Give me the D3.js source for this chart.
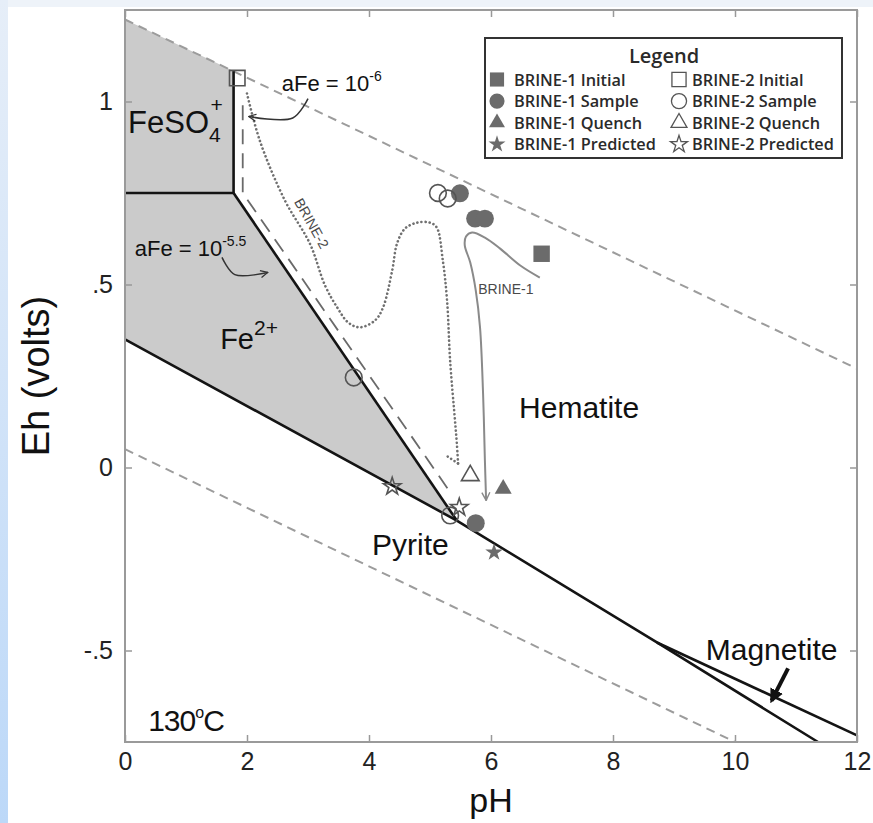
<!DOCTYPE html>
<html>
<head>
<meta charset="utf-8">
<script src="https://cdn.jsdelivr.net/npm/d3@7"></script>
<style>
  body { margin: 0; background: #fff; }
  svg { display: block; font-family: "Liberation Sans", Arial, sans-serif; }
</style>
</head>
<body>
<div id="chart"></div>
<script>
const width = 873;
const height = 823;

// axes
const xTicks = [0, 2, 4, 6, 8, 10, 12];
const yTicks = [1, 0.5, 0, -0.5];
const yTickLabels = ["1", ".5", "0", "-.5"];

// stability field boundaries (pH, Eh)
const waterUpper = [[0, 1.224], [12, 0.27]];
const waterLower = [[0, 0.05], [10, -0.75]];
const feso4Fe2 = [[0, 0.75], [1.78, 0.75]];
const feso4Hem = [[1.78, 0.75], [1.78, 1.083]];
const fe2Hem = [[1.78, 0.75], [5.44, -0.145]];
const pyriteLine = [[0, 0.35], [5.44, -0.145], [8.72, -0.478], [11.36, -0.75]];
const hemMag = [[8.72, -0.478], [12, -0.732]];
const aFe6Line = [[1.93, 0.99], [1.93, 0.75], [5.3, -0.06]];
const grayField = [[0, 1.224], [1.78, 1.083], [1.78, 0.75], [5.44, -0.145], [0, 0.35]];

// reaction paths
const brine2Path = [[2.0, 1.022], [2.21, 0.893], [2.62, 0.73], [3.03, 0.612], [3.28, 0.497],
  [3.48, 0.437], [3.66, 0.396], [3.85, 0.383], [4.10, 0.402], [4.23, 0.437], [4.38, 0.538],
  [4.46, 0.612], [4.59, 0.653], [4.79, 0.669], [5.0, 0.669], [5.11, 0.656], [5.21, 0.566],
  [5.28, 0.456], [5.33, 0.292], [5.41, 0.128], [5.44, 0.066], [5.46, 0.011]];
const brine2Hook = [[5.29, 0.03], [5.46, 0.011]];
const brine1Path = [[6.8, 0.519], [6.48, 0.552], [6.15, 0.598], [5.9, 0.628], [5.69, 0.642],
  [5.59, 0.631], [5.57, 0.607], [5.66, 0.56], [5.75, 0.484], [5.82, 0.383], [5.87, 0.202],
  [5.9, 0.019], [5.92, -0.09]];

// measured / predicted points (pH, Eh)
const brine1Initial = [[6.83, 0.584]];
const brine1Sample = [[5.49, 0.749], [5.74, 0.68], [5.9, 0.68], [5.75, -0.152]];
const brine1Quench = [[6.2, -0.058]];
const brine1Predicted = [[6.05, -0.232]];
const brine2Initial = [[1.84, 1.064]];
const brine2Sample = [[5.13, 0.75], [5.29, 0.735], [3.75, 0.246], [5.33, -0.131]];
const brine2Quench = [[5.66, -0.022]];
const brine2Predicted = [[4.38, -0.052], [5.48, -0.109]];

// annotation arrows
const arrow6 = [[3.0, 1.008], [2.75, 0.955], [2.03, 0.959]];
const arrow55 = [[1.59, 0.574], [1.8, 0.527], [2.34, 0.533]];
const arrowMag = [[10.87, -0.549], [10.6, -0.637]];

const legendRows = [
  ["BRINE-1 Initial", "BRINE-2 Initial"],
  ["BRINE-1 Sample", "BRINE-2 Sample"],
  ["BRINE-1 Quench", "BRINE-2 Quench"],
  ["BRINE-1 Predicted", "BRINE-2 Predicted"]
];

const x = d3.scaleLinear().domain([0, 12]).range([125, 857]);
const y = d3.scaleLinear().domain([-0.75, 1.25]).range([742, 10]);

const svg = d3.select("#chart").append("svg")
    .attr("width", width)
    .attr("height", height);

// light blue border of the scanned figure
let defs = svg.append("defs");
let grad = defs.append("linearGradient")
    .attr("id", "edge").attr("x1", 0).attr("y1", 0).attr("x2", 0).attr("y2", 1);
grad.append("stop").attr("offset", "0%").attr("stop-color", "#e6eef8");
grad.append("stop").attr("offset", "100%").attr("stop-color", "#bcd8f8");
svg.append("rect").attr("width", width).attr("height", height).attr("fill", "#fff");
svg.append("rect").attr("width", width).attr("height", 7).attr("fill", "#eef3f9");
svg.append("rect").attr("width", 8).attr("height", height).attr("fill", "url(#edge)");

defs.append("marker").attr("id", "headOpen")
    .attr("viewBox", "0 0 10 10").attr("refX", 9).attr("refY", 5)
    .attr("markerWidth", 9).attr("markerHeight", 9).attr("markerUnits", "userSpaceOnUse")
    .attr("orient", "auto")
  .append("path").attr("d", "M1,1 L9,5 L1,9")
    .attr("fill", "none").attr("stroke", "#333").attr("stroke-width", 1.4);
defs.append("marker").attr("id", "headGray")
    .attr("viewBox", "0 0 10 10").attr("refX", 9).attr("refY", 5)
    .attr("markerWidth", 10).attr("markerHeight", 10).attr("markerUnits", "userSpaceOnUse")
    .attr("orient", "auto")
  .append("path").attr("d", "M1,1 L9,5 L1,9")
    .attr("fill", "none").attr("stroke", "#888").attr("stroke-width", 1.4);
defs.append("marker").attr("id", "headBlack")
    .attr("viewBox", "0 0 10 10").attr("refX", 8).attr("refY", 5)
    .attr("markerWidth", 14).attr("markerHeight", 14).attr("markerUnits", "userSpaceOnUse")
    .attr("orient", "auto")
  .append("path").attr("d", "M0,0 L10,5 L0,10 Z").attr("fill", "#111");

const line = d3.line().x(d => x(d[0])).y(d => y(d[1]));
const curve = d3.line().x(d => x(d[0])).y(d => y(d[1])).curve(d3.curveCatmullRom);

let plot = svg.append("g");

plot.append("path").attr("d", line(grayField) + "Z").attr("fill", "#cbcbcb");

// water limits
[waterUpper, waterLower].forEach(d => {
  plot.append("path").attr("d", line(d))
      .attr("fill", "none").attr("stroke", "#9c9c9c")
      .attr("stroke-width", 2).attr("stroke-dasharray", "9,6");
});

// aFe = 10^-6 boundary
plot.append("path").attr("d", line(aFe6Line))
    .attr("fill", "none").attr("stroke", "#6a6a6a")
    .attr("stroke-width", 1.8).attr("stroke-dasharray", "15,9");

// solid field boundaries
[feso4Fe2, feso4Hem, fe2Hem, pyriteLine, hemMag].forEach(d => {
  plot.append("path").attr("d", line(d))
      .attr("fill", "none").attr("stroke", "#141414").attr("stroke-width", 2.6);
});

// reaction paths
plot.append("path").attr("d", curve(brine2Path))
    .attr("fill", "none").attr("stroke", "#707070").attr("stroke-width", 2.6)
    .attr("stroke-linecap", "round").attr("stroke-dasharray", "0.1,4");
plot.append("path").attr("d", line(brine2Hook))
    .attr("fill", "none").attr("stroke", "#707070").attr("stroke-width", 2.6)
    .attr("stroke-linecap", "round").attr("stroke-dasharray", "0.1,4");
plot.append("path").attr("d", curve(brine1Path))
    .attr("fill", "none").attr("stroke", "#8a8a8a").attr("stroke-width", 2)
    .attr("marker-end", "url(#headGray)");

plot.append("text")
    .attr("x", x(5.79)).attr("y", y(0.475))
    .style("font-family", "'Liberation Sans Narrow', 'Liberation Sans', sans-serif")
    .style("font-size", "14px").attr("fill", "#4a4a4a")
    .text("BRINE-1");
plot.append("text")
    .attr("transform", `translate(${x(3.06)},${y(0.667)}) rotate(60.6)`)
    .attr("text-anchor", "middle").attr("dy", "0.35em")
    .style("font-family", "'Liberation Sans Narrow', 'Liberation Sans', sans-serif")
    .style("font-size", "14px").attr("fill", "#4a4a4a")
    .text("BRINE-2");

// annotation arrows
plot.append("path").attr("d", curve(arrow6))
    .attr("fill", "none").attr("stroke", "#333").attr("stroke-width", 1.5)
    .attr("marker-end", "url(#headOpen)");
plot.append("path").attr("d", curve(arrow55))
    .attr("fill", "none").attr("stroke", "#333").attr("stroke-width", 1.5)
    .attr("marker-end", "url(#headOpen)");
plot.append("path").attr("d", line(arrowMag))
    .attr("fill", "none").attr("stroke", "#111").attr("stroke-width", 4)
    .attr("marker-end", "url(#headBlack)");

// markers
const markFill = "#6b6b6b";
const markLine = "#555";
function drawMarks(data, type, size, filled) {
  plot.selectAll(null).data(data).enter().append("path")
      .attr("transform", d => `translate(${x(d[0])},${y(d[1])})`)
      .attr("d", d3.symbol().type(type).size(size)())
      .attr("fill", filled ? markFill : "none")
      .attr("stroke", filled ? "none" : markLine)
      .attr("stroke-width", 1.6);
}
drawMarks(brine1Initial, d3.symbolSquare, 270, true);
drawMarks(brine1Sample, d3.symbolCircle, 254, true);
drawMarks(brine1Quench, d3.symbolTriangle, 125, true);
drawMarks(brine1Predicted, d3.symbolStar, 95, true);
drawMarks(brine2Initial, d3.symbolSquare, 240, false);
drawMarks(brine2Sample, d3.symbolCircle, 220, false);
drawMarks(brine2Quench, d3.symbolTriangle, 135, false);
drawMarks(brine2Predicted, d3.symbolStar, 95, false);

// field labels
function label(px, eh, size, parts) {
  let t = plot.append("text").attr("x", x(px)).attr("y", y(eh))
      .style("font-size", size + "px").attr("fill", "#111");
  parts.forEach(p => {
    let s = t.append("tspan").text(p.t);
    if (p.dy) s.attr("dy", p.dy);
    if (p.dx) s.attr("dx", p.dx);
    if (p.fs) s.style("font-size", p.fs + "px");
  });
  return t;
}
label(0.05, 0.913, 31, [{t: "FeSO"}, {t: "4", dy: 9, fs: 21}]);
label(1.4, 0.972, 21, [{t: "+"}]);
label(1.56, 0.325, 29, [{t: "Fe"}, {t: "2+", dy: -14, fs: 21}]);
label(6.46, 0.134, 30, [{t: "Hematite"}]);
label(4.05, -0.24, 30, [{t: "Pyrite"}]);
label(9.52, -0.527, 30, [{t: "Magnetite"}]);
label(0.38, -0.719, 30, [{t: "130"}, {t: "o", dy: -13, fs: 16}, {t: "C", dy: 13}])
    .attr("letter-spacing", -1);
label(2.57, 1.03, 22, [{t: "aFe = 10"}, {t: "-6", dy: -10, fs: 14}]);
label(0.16, 0.579, 22, [{t: "aFe = 10"}, {t: "-5.5", dy: -10, fs: 14}]);

// frame and ticks
let axes = svg.append("g");
axes.append("g").attr("transform", `translate(0,${y(-0.75)})`)
    .call(d3.axisBottom(x).tickValues(xTicks).tickSize(-7).tickSizeOuter(0).tickPadding(10));
axes.append("g").attr("transform", `translate(0,${y(1.25)})`)
    .call(d3.axisTop(x).tickValues(xTicks).tickSize(-7).tickSizeOuter(0).tickFormat(""));
axes.append("g").attr("transform", `translate(${x(0)},0)`)
    .call(d3.axisLeft(y).tickValues(yTicks).tickSize(-7).tickSizeOuter(0).tickPadding(12)
      .tickFormat((d, i) => yTickLabels[i]));
axes.append("g").attr("transform", `translate(${x(12)},0)`)
    .call(d3.axisRight(y).tickValues(yTicks).tickSize(-7).tickSizeOuter(0).tickFormat(""));
axes.selectAll(".domain").remove();
axes.selectAll(".tick line").attr("stroke", "#999").attr("stroke-width", 1.5);
axes.selectAll(".tick text").style("font-size", "25px").attr("fill", "#222")
    .style("font-family", "'Liberation Sans', Arial, sans-serif");

axes.append("rect")
    .attr("x", x(0)).attr("y", y(1.25))
    .attr("width", x(12) - x(0)).attr("height", y(-0.75) - y(1.25))
    .attr("fill", "none").attr("stroke", "#9a9a9a").attr("stroke-width", 2);

svg.append("text").attr("x", x(6)).attr("y", 812)
    .attr("text-anchor", "middle").style("font-size", "34px").attr("fill", "#111")
    .text("pH");
svg.append("text").attr("transform", `translate(49,${y(0.25)}) rotate(-90)`)
    .attr("text-anchor", "middle").style("font-size", "38px").attr("fill", "#111")
    .text("Eh (volts)");

// legend
let legend = svg.append("g");
legend.append("rect").attr("x", 485).attr("y", 38).attr("width", 357).attr("height", 120)
    .attr("fill", "#fff").attr("stroke", "#333").attr("stroke-width", 2);
legend.append("text").attr("x", 664).attr("y", 63).attr("text-anchor", "middle")
    .style("font-family", "'Open Sans', sans-serif").style("font-weight", 600)
    .style("font-size", "20px").attr("fill", "#2a2a2a").text("Legend");
const legendTypes = [d3.symbolSquare, d3.symbolCircle, d3.symbolTriangle, d3.symbolStar];
const legendSizes = [200, 180, 110, 90];
legendRows.forEach((row, i) => {
  let yy = 85.5 + i * 21.6;
  row.forEach((name, j) => {
    let sx = j === 0 ? 497 : 679;
    legend.append("path")
        .attr("transform", `translate(${sx},${yy - 6})`)
        .attr("d", d3.symbol().type(legendTypes[i]).size(legendSizes[i])())
        .attr("fill", j === 0 ? markFill : "none")
        .attr("stroke", j === 0 ? "none" : markLine).attr("stroke-width", 1.3);
    legend.append("text").attr("x", j === 0 ? 514 : 692).attr("y", yy)
        .style("font-family", "'Open Sans', sans-serif").style("font-weight", 600)
        .style("font-size", "16.3px").attr("fill", "#2a2a2a").text(name);
  });
});
</script>
</body>
</html>
